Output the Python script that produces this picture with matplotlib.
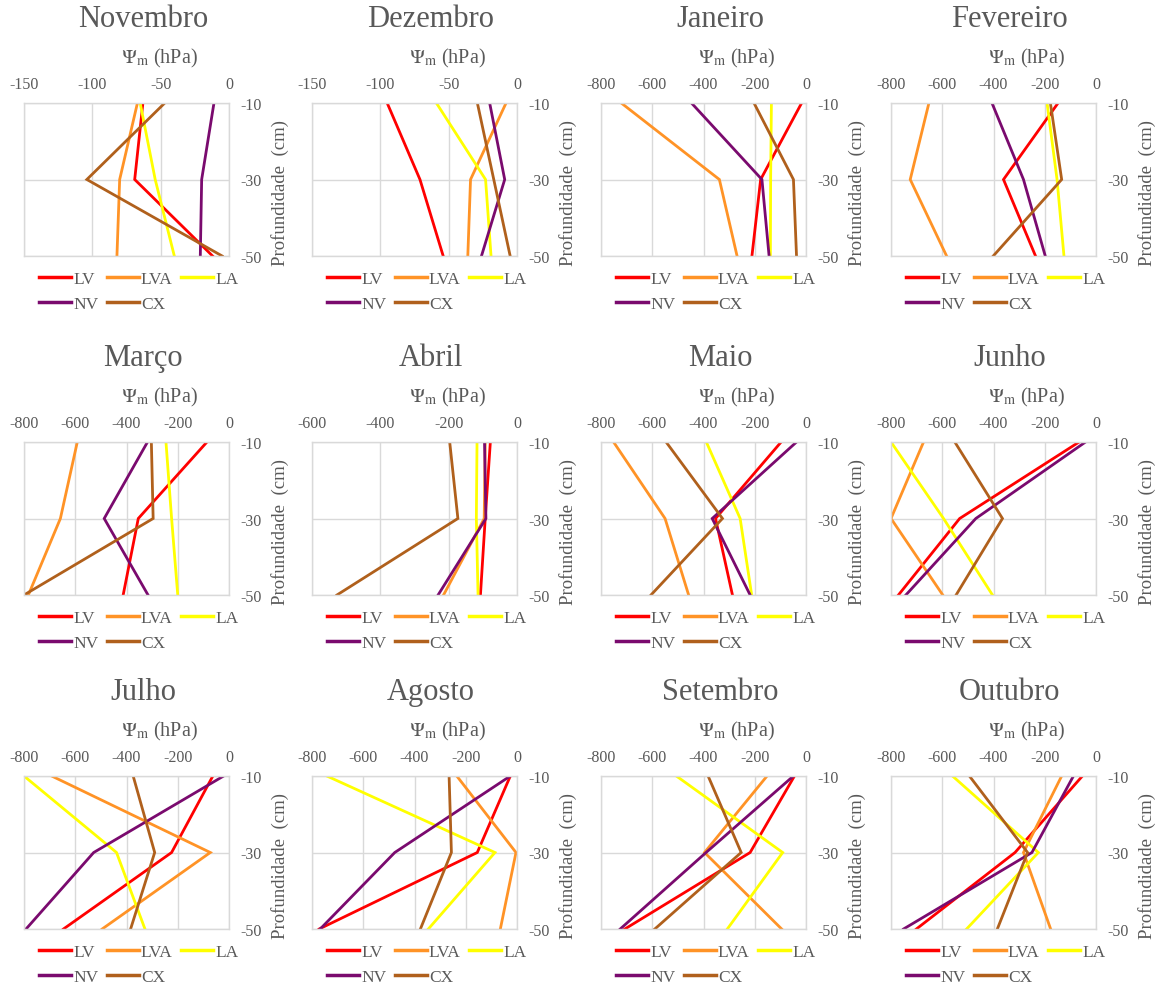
import matplotlib
matplotlib.use('Agg')
import matplotlib.pyplot as plt

# Monthly soil matric potential profiles (hPa) at 10, 30 and 50 cm depth
months = ['Novembro', 'Dezembro', 'Janeiro', 'Fevereiro',
          'Março', 'Abril', 'Maio', 'Junho',
          'Julho', 'Agosto', 'Setembro', 'Outubro']
depth = [-10, -30, -50]

lv = [[-63, -69, -12], [-95, -71, -54], [-17, -177, -211], [-148, -361, -236],
      [-86, -354, -413], [-78, -93, -107], [-97, -353, -287], [-66, -532, -771],
      [-63, -224, -646], [-26, -155, -772], [-45, -218, -707], [-53, -316, -701]]
lva = [[-67, -80, -82], [-8, -34, -36], [-721, -338, -269], [-652, -725, -583],
       [-592, -658, -783], [-93, -96, -215], [-751, -550, -458], [-673, -800, -598],
       [-692, -73, -495], [-235, -4, -65], [-152, -396, -95], [-134, -283, -177]]
la = [[-65, -54, -40], [-59, -23, -19], [-135, -138, -139], [-191, -152, -125],
      [-246, -224, -200], [-117, -119, -114], [-389, -257, -212], [-800, -595, -404],
      [-800, -439, -328], [-742, -86, -346], [-506, -91, -307], [-560, -225, -505]]
nv = [[-11, -20, -21], [-20, -9, -26], [-447, -172, -144], [-406, -283, -198],
      [-318, -487, -316], [-95, -91, -231], [-37, -366, -218], [-41, -469, -742],
      [-21, -528, -792], [-26, -477, -768], [-49, -390, -725], [-88, -250, -751]]
cx = [[-47, -104, -5], [-29, -17, -5], [-203, -49, -37], [-178, -134, -401],
      [-303, -296, -800], [-197, -173, -527], [-546, -326, -605], [-551, -365, -546],
      [-374, -290, -384], [-265, -256, -377], [-382, -253, -590], [-494, -267, -385]]

x_min = [-150, -150, -800, -800, -800, -600, -800, -800, -800, -800, -800, -800]
x_step = [50, 50, 200, 200, 200, 200, 200, 200, 200, 200, 200, 200]

soil_names = ['LV', 'LVA', 'LA', 'NV', 'CX']
soil_colors = ['#ff0000', '#ff9326', '#ffff00', '#7a0a6e', '#b0601c']
soil_data = [lv, lva, la, nv, cx]

txt_color = '#595959'
grid_color = '#d9d9d9'

plt.rcParams['font.family'] = ['Liberation Serif', 'DejaVu Serif']
plt.rcParams['mathtext.fontset'] = 'stix'
plt.rcParams['axes.unicode_minus'] = False

W, H = 1155, 987
fig = plt.figure(figsize=(W / 100, H / 100), dpi=100)

col_left = [24, 312, 601, 891]
col_width = 205
row_top = [104, 443, 777]
row_height = 153

for i, month in enumerate(months):
    r, c = divmod(i, 4)
    ax = fig.add_axes([col_left[c] / W, 1 - (row_top[r] + row_height) / H,
                       col_width / W, row_height / H])

    lines = []
    for name, col, data in zip(soil_names, soil_colors, soil_data):
        ln, = ax.plot(data[i], depth, color=col, lw=2.0, label=name,
                      solid_joinstyle='miter')
        lines.append(ln)

    ax.set_xlim(x_min[i], 0)
    ax.set_ylim(-50, -10)
    ax.set_xticks(list(range(x_min[i], 1, x_step[i])))
    ax.set_yticks([-10, -30, -50])

    ax.xaxis.tick_top()
    ax.yaxis.tick_right()
    ax.tick_params(length=0, labelsize=11.5, colors=txt_color, pad=8)

    ax.grid(True, color=grid_color, lw=1.0)
    ax.set_axisbelow(True)
    for sp in ax.spines.values():
        sp.set_color(grid_color)
        sp.set_linewidth(1.0)

    # axis titles sit centred over the whole chart block, not just the plot area
    ax.text(0.66, 1.30, r'$\Psi_\mathrm{m}$ (hPa)', transform=ax.transAxes,
            ha='center', va='center', fontsize=14.5, color=txt_color)
    ax.text(1.25, 0.42, 'Profundidade  (cm)', transform=ax.transAxes, rotation=90,
            ha='center', va='center', fontsize=13.5, color=txt_color)
    ax.text(0.58, 1.55, month, transform=ax.transAxes,
            ha='center', va='center', fontsize=22, color=txt_color)

    # legend rows: LV LVA LA / NV CX
    order = [0, 3, 1, 4, 2]
    leg = ax.legend([lines[k] for k in order], [soil_names[k] for k in order],
                    ncol=3, loc='upper center', bbox_to_anchor=(0.56, -0.02),
                    frameon=False, fontsize=12.5, handlelength=1.85, handletextpad=0.1,
                    columnspacing=0.5, labelspacing=0.5, borderpad=0.2)
    for t in leg.get_texts():
        t.set_color(txt_color)
    for h in leg.get_lines():
        h.set_linewidth(2.5)

fig.savefig('out.png', dpi=100, facecolor='white')
